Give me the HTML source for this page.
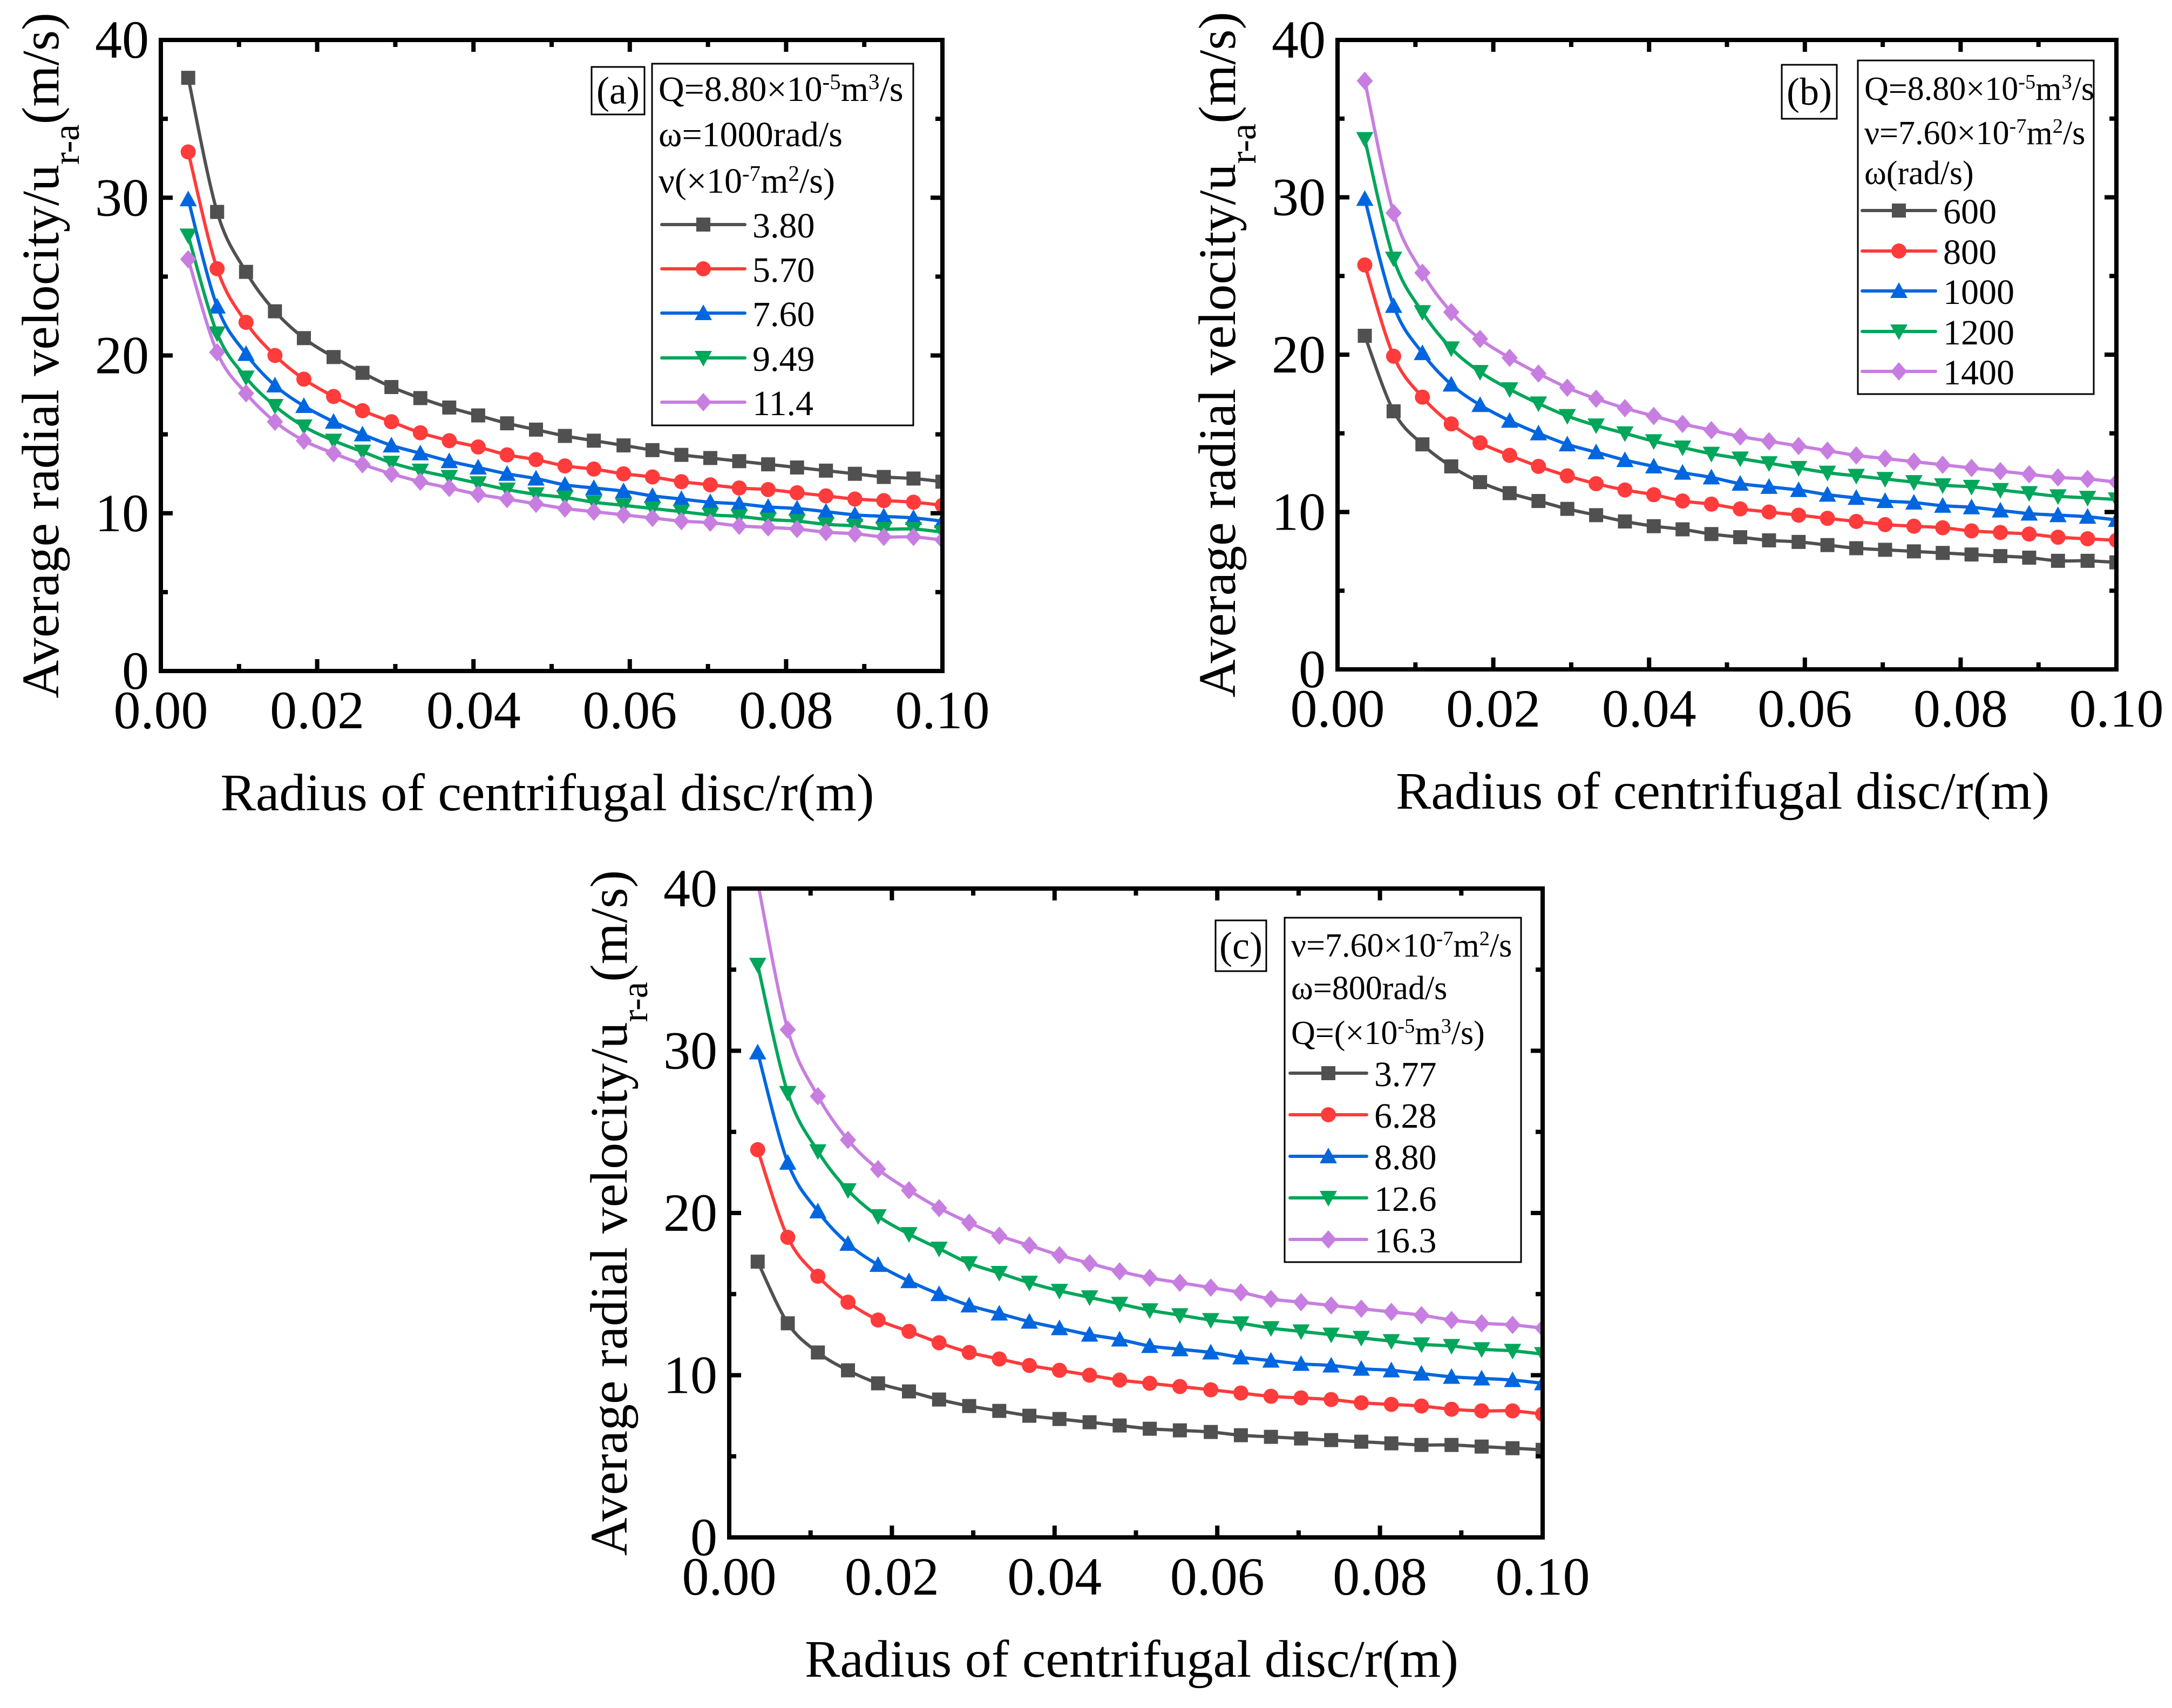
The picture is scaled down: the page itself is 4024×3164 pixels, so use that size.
<!DOCTYPE html>
<html><head><meta charset="utf-8"><style>
html,body{margin:0;padding:0;background:#fff}
svg{display:block;font-family:"Liberation Serif",serif}
</style></head><body>
<svg id="fig" width="4024" height="3164" viewBox="0 0 4024 3164" xmlns="http://www.w3.org/2000/svg"></svg>
<script>
// shared x values (radius, m)
const radii = [0.0035,0.0072,0.0109,0.0146,0.0183,0.0221,0.0258,0.0295,0.0332,0.0369,0.0406,0.0443,0.0480,0.0517,0.0554,0.0592,0.0629,0.0666,0.0703,0.0740,0.0777,0.0814,0.0851,0.0888,0.0925,0.0963,0.1000];
const xTicks = [0,0.02,0.04,0.06,0.08,0.10];
const xTickLabels = ["0.00","0.02","0.04","0.06","0.08","0.10"];
const yTicks = [0,10,20,30,40];
const yTickLabels = ["0","10","20","30","40"];
// panel (a)
const aLabels = ["3.80","5.70","7.60","9.49","11.4"];
const a1 = [37.6,29.1,25.3,22.8,21.1,19.9,18.9,18.0,17.3,16.7,16.2,15.7,15.3,14.9,14.6,14.3,14.0,13.7,13.5,13.3,13.1,12.9,12.7,12.5,12.3,12.2,12.0];
const a2 = [32.9,25.5,22.1,20.0,18.5,17.4,16.5,15.8,15.1,14.6,14.2,13.7,13.4,13.0,12.8,12.5,12.3,12.0,11.8,11.6,11.5,11.3,11.1,10.9,10.8,10.7,10.5];
const a3 = [29.9,23.1,20.1,18.1,16.8,15.8,15.0,14.3,13.8,13.3,12.9,12.5,12.2,11.8,11.6,11.4,11.1,10.9,10.7,10.6,10.4,10.3,10.1,9.9,9.8,9.7,9.5];
const a4 = [27.6,21.4,18.6,16.8,15.5,14.6,13.9,13.2,12.7,12.3,11.9,11.5,11.2,11.0,10.7,10.5,10.3,10.1,9.9,9.8,9.6,9.5,9.3,9.2,9.0,9.0,8.8];
const a5 = [26.1,20.2,17.6,15.8,14.6,13.8,13.1,12.5,12.0,11.6,11.2,10.9,10.6,10.3,10.1,9.9,9.7,9.5,9.4,9.2,9.1,9.0,8.8,8.7,8.5,8.5,8.3];
// panel (b)
const bLabels = ["600","800","1000","1200","1400"];
const b1 = [21.2,16.4,14.3,12.9,11.9,11.2,10.7,10.2,9.8,9.4,9.1,8.9,8.6,8.4,8.2,8.1,7.9,7.7,7.6,7.5,7.4,7.3,7.2,7.1,6.9,6.9,6.8];
const b2 = [25.7,19.9,17.3,15.6,14.4,13.6,12.9,12.3,11.8,11.4,11.1,10.7,10.5,10.2,10.0,9.8,9.6,9.4,9.2,9.1,9.0,8.8,8.7,8.6,8.4,8.3,8.2];
const b3 = [29.9,23.1,20.1,18.1,16.8,15.8,15.0,14.3,13.8,13.3,12.9,12.5,12.2,11.8,11.6,11.4,11.1,10.9,10.7,10.6,10.4,10.3,10.1,9.9,9.8,9.7,9.5];
const b4 = [33.7,26.1,22.7,20.4,18.9,17.8,16.9,16.1,15.5,15.0,14.5,14.1,13.7,13.4,13.1,12.8,12.5,12.3,12.1,11.9,11.7,11.6,11.4,11.2,11.0,10.9,10.8];
const b5 = [37.4,29.0,25.2,22.7,21.0,19.8,18.8,17.9,17.2,16.6,16.1,15.6,15.2,14.8,14.5,14.2,13.9,13.6,13.4,13.2,13.0,12.8,12.6,12.4,12.2,12.1,11.9];
// panel (c)
const cLabels = ["3.77","6.28","8.80","12.6","16.3"];
const c1 = [17.0,13.2,11.4,10.3,9.5,9.0,8.5,8.1,7.8,7.5,7.3,7.1,6.9,6.7,6.6,6.5,6.3,6.2,6.1,6.0,5.9,5.8,5.7,5.7,5.6,5.5,5.4];
const c2 = [23.9,18.5,16.1,14.5,13.4,12.7,12.0,11.4,11.0,10.6,10.3,10.0,9.7,9.5,9.3,9.1,8.9,8.7,8.6,8.5,8.3,8.2,8.1,7.9,7.8,7.8,7.6];
const c3 = [29.9,23.1,20.1,18.1,16.8,15.8,15.0,14.3,13.8,13.3,12.9,12.5,12.2,11.8,11.6,11.4,11.1,10.9,10.7,10.6,10.4,10.3,10.1,9.9,9.8,9.7,9.5];
const c4 = [35.3,27.4,23.8,21.4,19.8,18.7,17.8,16.9,16.3,15.7,15.2,14.8,14.4,14.0,13.7,13.4,13.2,12.9,12.7,12.5,12.3,12.1,11.9,11.8,11.6,11.5,11.3];
const c5 = [40.4,31.3,27.2,24.5,22.7,21.4,20.3,19.4,18.6,18.0,17.4,16.9,16.4,16.0,15.7,15.4,15.1,14.7,14.5,14.3,14.1,13.9,13.7,13.4,13.2,13.1,12.9];

const COLORS = ["#505050","#ff3b3b","#0066e0","#00a65a","#c77ee0"];
const SHAPES = ["square","circle","tri","tridown","diamond"];
const NS = "http://www.w3.org/2000/svg";
const svg = document.getElementById("fig");

function mk(tag, attrs, parent){
  const e = document.createElementNS(NS, tag);
  for (const k in attrs) e.setAttribute(k, attrs[k]);
  (parent||svg).appendChild(e);
  return e;
}
function marker(g, shape, cx, cy, color){
  const s = 13;
  let e;
  if (shape==="square") e = mk("rect",{x:cx-s,y:cy-s,width:2*s,height:2*s,fill:color},g);
  else if (shape==="circle") e = mk("circle",{cx:cx,cy:cy,r:s+1,fill:color},g);
  else if (shape==="tri") e = mk("polygon",{points:`${cx},${cy-s-3} ${cx+s+3},${cy+s} ${cx-s-3},${cy+s}`,fill:color},g);
  else if (shape==="tridown") e = mk("polygon",{points:`${cx},${cy+s+3} ${cx+s+3},${cy-s} ${cx-s-3},${cy-s}`,fill:color},g);
  else e = mk("polygon",{points:`${cx},${cy-s-4} ${cx+s+2},${cy} ${cx},${cy+s+4} ${cx-s-2},${cy}`,fill:color},g);
  
  
  return e;
}
function addSub(t, parts){
  for (const p of parts){
    const ts = mk("tspan", p.sup ? {"baseline-shift":"super","font-size":"0.62em"} : p.sub ? {"baseline-shift":"sub","font-size":"0.7em"} : {}, t);
    ts.textContent = p.t;
  }
}
function smoothPath(P){
  let d = `M${P[0][0].toFixed(1)},${P[0][1].toFixed(1)}`;
  for (let i=0;i<P.length-1;i++){
    const p0 = P[Math.max(i-1,0)], p1 = P[i], p2 = P[i+1], p3 = P[Math.min(i+2,P.length-1)];
    const c1x = p1[0]+(p2[0]-p0[0])/6, c1y = p1[1]+(p2[1]-p0[1])/6;
    const c2x = p2[0]-(p3[0]-p1[0])/6, c2y = p2[1]-(p3[1]-p1[1])/6;
    d += ` C${c1x.toFixed(1)},${c1y.toFixed(1)} ${c2x.toFixed(1)},${c2y.toFixed(1)} ${p2[0].toFixed(1)},${p2[1].toFixed(1)}`;
  }
  return d;
}

function panel(cfg){
  const {id,L,R,T,B,series,labels,legend,tag} = cfg;
  const g = mk("g",{});
  
  
  const xs = v => L + (v-0)/(0.10-0)*(R-L);
  const ys = v => B - (v-0)/(40-0)*(B-T);
  const clipId = "clip"+id;
  const cp = mk("clipPath",{id:clipId},g);
  mk("rect",{x:L,y:T,width:R-L,height:B-T},cp);
  series.forEach((vals,si)=>{
    const sg = mk("g",{"clip-path":`url(#${clipId})`},g);
    
    
    const P = vals.map((v,i)=>[xs(radii[i]), ys(v)]);
    mk("path",{d:smoothPath(P),fill:"none",stroke:COLORS[si],"stroke-width":6,"stroke-linejoin":"round"},sg);
    vals.forEach((v,i)=>marker(sg,SHAPES[si],xs(radii[i]),ys(v),COLORS[si]));
  });
  const tg = mk("g",{stroke:"#000","stroke-width":8},g);
  
  
  for (let k=0; k<=10; k++){
    const x = xs(k*0.01), len = (k%2===0)?22:13;
    mk("line",{x1:x,y1:B,x2:x,y2:B-len},tg);
    mk("line",{x1:x,y1:T,x2:x,y2:T+len},tg);
  }
  for (let v=0; v<=40; v+=5){
    const y = ys(v), len = (v%10===0)?22:13;
    mk("line",{x1:L,y1:y,x2:L+len,y2:y},tg);
    mk("line",{x1:R,y1:y,x2:R-len,y2:y},tg);
  }
  const fr = mk("rect",{x:L,y:T,width:R-L,height:B-T,fill:"none",stroke:"#000","stroke-width":8},g);
  
  
  xTicks.forEach((v,i)=>{
    const t = mk("text",{x:xs(v),y:B+106,"font-size":100,"text-anchor":"middle"},g);
    
    
    t.textContent = xTickLabels[i];
  });
  yTicks.forEach((v,i)=>{
    const t = mk("text",{x:L-22,y:ys(v)+33,"font-size":100,"text-anchor":"end"},g);
    
    
    t.textContent = yTickLabels[i];
  });
  const xt = mk("text",{x:(L+R)/2-8,y:B+258,"font-size":98,"text-anchor":"middle"},g);
  
  
  xt.textContent = "Radius of centrifugal disc/r(m)";
  const yt = mk("text",{x:0,y:0,"font-size":98,"text-anchor":"middle",transform:`translate(${L-190},${(T+B)/2}) rotate(-90)`},g);
  
  
  addSub(yt,[{t:"Average radial velocity/u"},{t:"r-a",sub:1},{t:"(m/s)"}]);
  const tb = mk("rect",{x:tag.x,y:tag.y,width:tag.w,height:tag.h,fill:"#fff",stroke:"#000","stroke-width":3},g);
  
  
  const tt = mk("text",{x:tag.x+tag.w/2,y:tag.y+tag.h/2+24,"font-size":72,"text-anchor":"middle"},g);
  
  
  tt.textContent = "("+id+")";
  const lb = mk("rect",{x:legend.x,y:legend.y,width:legend.w,height:legend.h,fill:"#fff",stroke:"#000","stroke-width":3},g);
  
  
  legend.head.forEach((parts,i)=>{
    const t = mk("text",{x:legend.x+12,y:legend.rows[i]+23,"font-size":legend.hs||66},g);
    
    
    addSub(t,parts);
  });
  labels.forEach((lab,si)=>{
    const y = legend.rows[3+si];
    const eg = mk("g",{},g);
    
    
    mk("line",{x1:legend.lx1,y1:y,x2:legend.lx2,y2:y,stroke:COLORS[si],"stroke-width":6,"stroke-linecap":"round"},eg);
    marker(eg,SHAPES[si],(legend.lx1+legend.lx2)/2,y,COLORS[si]);
    const t = mk("text",{x:legend.lx2+14,y:y+24,"font-size":66},eg);
    t.textContent = lab;
  });
}

panel({id:"a",L:298,R:1746,T:74,B:1243,series:[a1,a2,a3,a4,a5],labels:aLabels,
  tag:{x:1096,y:124,w:98,h:88},
  legend:{x:1208,y:118,w:484,h:670,lx1:1226,lx2:1380,rows:[164,248,334,416,498,580,663,745],
    head:[[{t:"Q=8.80×10"},{t:"-5",sup:1},{t:"m"},{t:"3",sup:1},{t:"/s"}],[{t:"ω=1000rad/s"}],[{t:"ν(×10"},{t:"-7",sup:1},{t:"m"},{t:"2",sup:1},{t:"/s)"}]]}});
panel({id:"b",L:2478,R:3921,T:74,B:1240,series:[b1,b2,b3,b4,b5],labels:bLabels,
  tag:{x:3301,y:120,w:102,h:100},
  legend:{x:3442,y:112,w:437,h:618,lx1:3450,lx2:3586,hs:62,rows:[162,244,318,390,465,539,614,688],
    head:[[{t:"Q=8.80×10"},{t:"-5",sup:1},{t:"m"},{t:"3",sup:1},{t:"/s"}],[{t:"ν=7.60×10"},{t:"-7",sup:1},{t:"m"},{t:"2",sup:1},{t:"/s"}],[{t:"ω(rad/s)"}]]}});
panel({id:"c",L:1351,R:2858,T:1646,B:2848,series:[c1,c2,c3,c4,c5],labels:cLabels,
  tag:{x:2252,y:1705,w:94,h:94},
  legend:{x:2380,y:1700,w:438,h:638,lx1:2390,lx2:2532,hs:62,rows:[1749,1828,1911,1988,2065,2142,2219,2296],
    head:[[{t:"ν=7.60×10"},{t:"-7",sup:1},{t:"m"},{t:"2",sup:1},{t:"/s"}],[{t:"ω=800rad/s"}],[{t:"Q=(×10"},{t:"-5",sup:1},{t:"m"},{t:"3",sup:1},{t:"/s)"}]]}});
</script>
</body></html>
